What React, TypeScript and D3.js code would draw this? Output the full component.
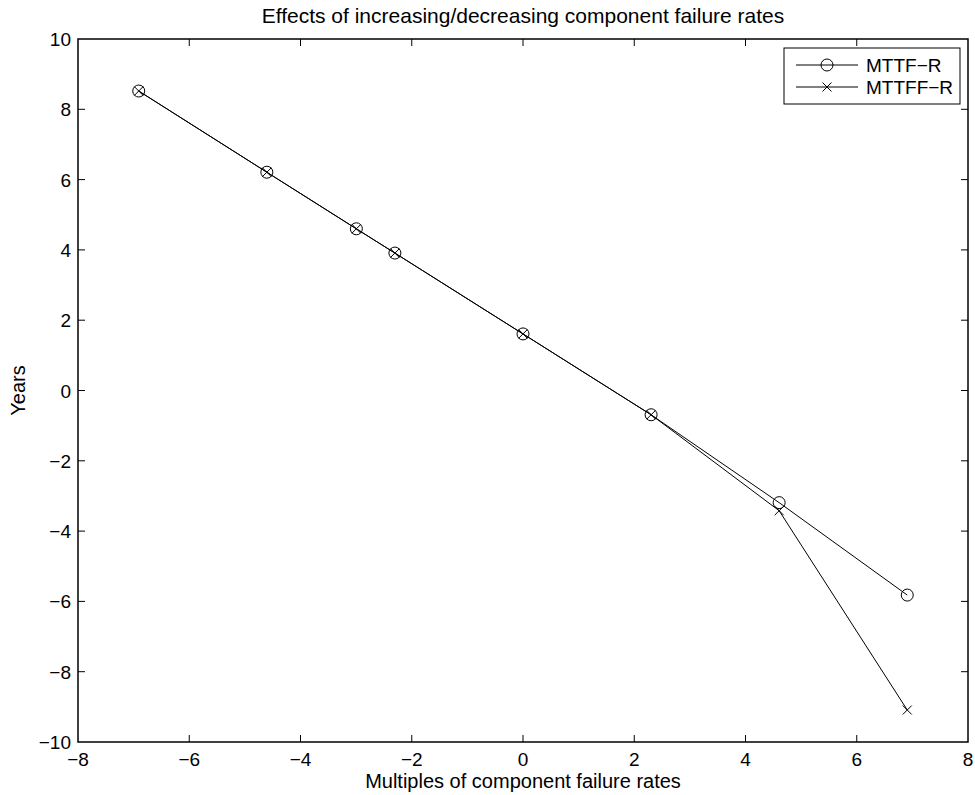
import React, { useRef, useEffect } from "react";
import * as d3 from "d3";

// multiples of component failure rates (log scale values)
const multiples = [-6.908, -4.605, -2.996, -2.303, 0, 2.303, 4.605, 6.908];
const mttf = [8.52, 6.21, 4.60, 3.91, 1.61, -0.69, -3.19, -5.82];
const mttff = [8.52, 6.21, 4.60, 3.91, 1.61, -0.69, -3.42, -9.09];
const xTicks = [-8, -6, -4, -2, 0, 2, 4, 6, 8];
const yTicks = [-10, -8, -6, -4, -2, 0, 2, 4, 6, 8, 10];
const seriesNames = ["MTTF-R", "MTTFF-R"];

const W = 975;
const H = 795;
const left = 78, right = 968, top = 39, bottom = 742;
const font = "'Liberation Sans', Arial, Helvetica, sans-serif";

const App = () => {
	const svgRef = useRef(null);

	useEffect(() => {
		document.body.style.margin = "0";
		const svg = d3.select(svgRef.current);
		svg.selectAll("*").remove();

		const x = d3.scaleLinear().domain([-8, 8]).range([left, right]);
		const y = d3.scaleLinear().domain([-10, 10]).range([bottom, top]);
		const fmt = (d) => (d < 0 ? "\u2212" + Math.abs(d) : String(d));
		const tl = 7;

		// axes box + inward ticks
		const g = svg.append("g").attr("stroke", "#000");
		xTicks.forEach(t => {
			if (t === -8 || t === 8) return;
			g.append("line").attr("x1", x(t)).attr("x2", x(t)).attr("y1", bottom).attr("y2", bottom - tl).attr("stroke-width", 1);
			g.append("line").attr("x1", x(t)).attr("x2", x(t)).attr("y1", top).attr("y2", top + tl).attr("stroke-width", 1);
		});
		yTicks.forEach(t => {
			if (t === -10 || t === 10) return;
			g.append("line").attr("x1", left).attr("x2", left + tl).attr("y1", y(t)).attr("y2", y(t)).attr("stroke-width", 1);
			g.append("line").attr("x1", right).attr("x2", right - tl).attr("y1", y(t)).attr("y2", y(t)).attr("stroke-width", 1);
		});
		g.append("rect")
			.attr("x", left).attr("y", top)
			.attr("width", right - left).attr("height", bottom - top)
			.attr("fill", "none").attr("stroke-width", 1.5);

		// tick labels
		svg.append("g").selectAll("text").data(xTicks).join("text")
			.attr("x", d => x(d)).attr("y", bottom + 24)
			.attr("text-anchor", "middle")
			.attr("font-family", font).attr("font-size", 19)
			.text(d => fmt(d));
		svg.append("g").selectAll("text").data(yTicks).join("text")
			.attr("x", left - 7).attr("y", d => y(d) + 7)
			.attr("text-anchor", "end")
			.attr("font-family", font).attr("font-size", 19)
			.text(d => fmt(d));

		// titles
		svg.append("text")
			.attr("x", (left + right) / 2).attr("y", 23)
			.attr("text-anchor", "middle")
			.attr("font-family", font).attr("font-size", 21)
			.text("Effects of increasing/decreasing component failure rates");
		svg.append("text")
			.attr("x", (left + right) / 2).attr("y", 788)
			.attr("text-anchor", "middle")
			.attr("font-family", font).attr("font-size", 20)
			.text("Multiples of component failure rates");
		svg.append("text")
			.attr("transform", `translate(25, ${(top + bottom) / 2}) rotate(-90)`)
			.attr("text-anchor", "middle")
			.attr("font-family", font).attr("font-size", 20)
			.text("Years");

		// lines
		const line = d3.line().x(d => x(d[0])).y(d => y(d[1]));
		const s1 = multiples.map((m, i) => [m, mttf[i]]);
		const s2 = multiples.map((m, i) => [m, mttff[i]]);
		const plot = svg.append("g");
		[s1, s2].forEach(s => {
			plot.append("path").datum(s)
				.attr("fill", "none").attr("stroke", "#000").attr("stroke-width", 1)
				.attr("d", line);
		});

		const circle = (sel, cx, cy) => sel.append("circle")
			.attr("cx", cx).attr("cy", cy).attr("r", 6)
			.attr("fill", "none").attr("stroke", "#000").attr("stroke-width", 1);
		const cross = (sel, cx, cy) => {
			const r = 4.5;
			sel.append("path")
				.attr("d", `M${cx - r},${cy - r}L${cx + r},${cy + r}M${cx - r},${cy + r}L${cx + r},${cy - r}`)
				.attr("stroke", "#000").attr("stroke-width", 1).attr("fill", "none");
		};
		s1.forEach(d => circle(plot, x(d[0]), y(d[1])));
		s2.forEach(d => cross(plot, x(d[0]), y(d[1])));

		// legend
		const lg = svg.append("g");
		lg.append("rect")
			.attr("x", 784).attr("y", 48).attr("width", 176).attr("height", 56)
			.attr("fill", "#fff").attr("stroke", "#000").attr("stroke-width", 1);
		seriesNames.forEach((name, i) => {
			const ly = 65 + i * 22;
			lg.append("line").attr("x1", 796).attr("x2", 858).attr("y1", ly).attr("y2", ly)
				.attr("stroke", "#000").attr("stroke-width", 1);
			if (i === 0) circle(lg, 827, ly); else cross(lg, 827, ly);
			lg.append("text")
				.attr("x", 866).attr("y", ly + 7)
				.attr("font-family", font).attr("font-size", 19)
				.text(name.replace("-", "\u2212"));
		});
	}, []);

	return (
		<svg ref={svgRef} width={W} height={H} style={{ display: "block", background: "#fff" }}></svg>
	);
};

export default App;
